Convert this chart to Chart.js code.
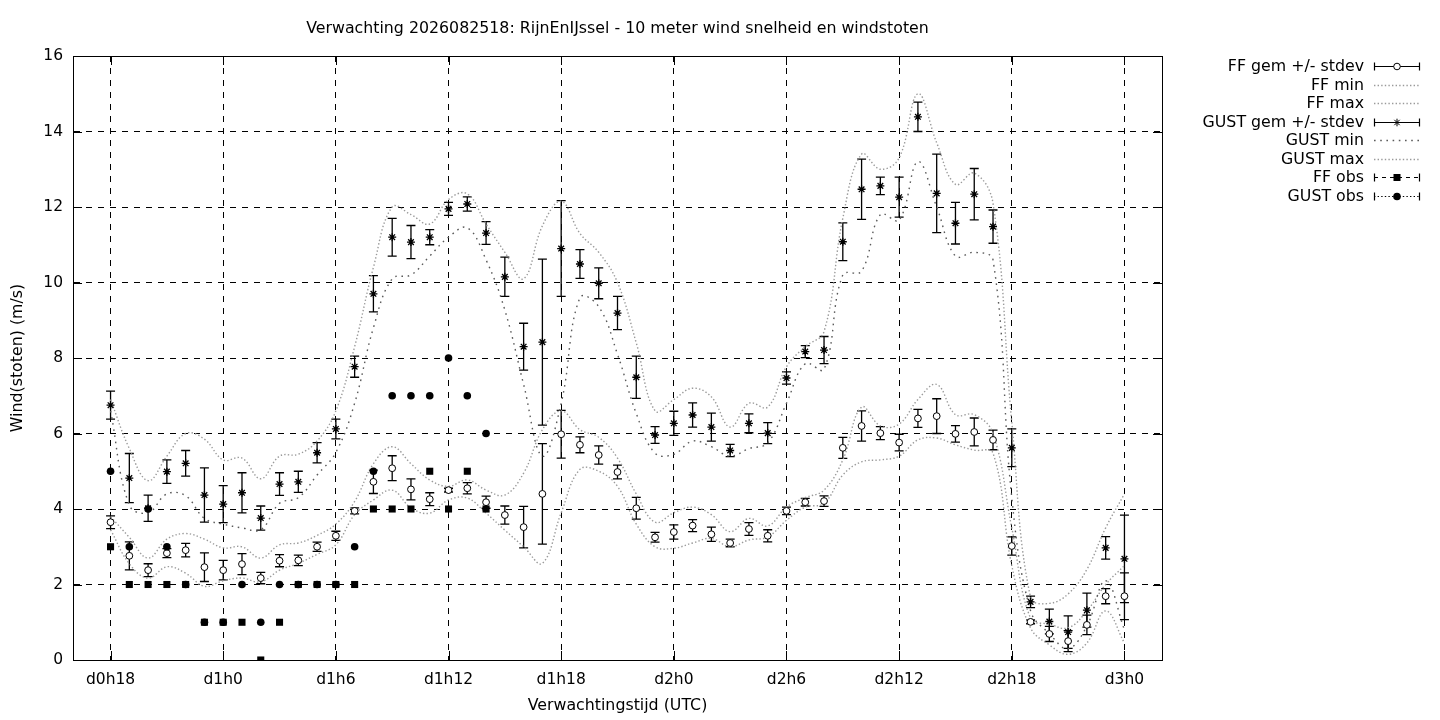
<!DOCTYPE html>
<html>
<head>
<meta charset="utf-8">
<title>Verwachting RijnEnIJssel wind</title>
<script src="https://cdn.jsdelivr.net/npm/chart.js"></script>
<style>
  html, body { margin: 0; padding: 0; background: #fff; }
  canvas { display: block; }
</style>
</head>
<body>
<canvas id="chart" width="1440" height="720"></canvas>
<script>
// ------------------ Data ------------------
const hours = [18, 19, 20, 21, 22, 23, 24, 25, 26, 27, 28, 29, 30, 31, 32, 33, 34, 35, 36, 37,
    38, 39, 40, 41, 42, 43, 44, 45, 46, 47, 48, 49, 50, 51, 52, 53, 54, 55, 56, 57,
    58, 59, 60, 61, 62, 63, 64, 65, 66, 67, 68, 69, 70, 71, 72];

const tickHours = [18, 24, 30, 36, 42, 48, 54, 60, 66, 72];
const tickLabels = ["d0h18", "d1h0", "d1h6", "d1h12", "d1h18", "d2h0", "d2h6", "d2h12", "d2h18", "d3h0"];

const ffMean = [3.65, 2.76, 2.38, 2.83, 2.91, 2.46, 2.38, 2.54, 2.17, 2.63, 2.64, 3.0, 3.29, 3.95, 4.72, 5.08, 4.52, 4.26, 4.5, 4.55,
    4.18, 3.84, 3.52, 4.4, 5.98, 5.7, 5.43, 4.98, 4.02, 3.25, 3.39, 3.56, 3.33, 3.1, 3.47, 3.29, 3.95, 4.18, 4.21, 5.62,
    6.2, 6.01, 5.76, 6.4, 6.46, 5.99, 6.04, 5.83, 3.02, 1.01, 0.69, 0.5, 0.93, 1.69, 1.69];
const ffStdev = [0.17, 0.37, 0.17, 0.12, 0.18, 0.38, 0.26, 0.28, 0.15, 0.16, 0.14, 0.12, 0.12, 0.08, 0.31, 0.33, 0.28, 0.17, 0.05, 0.15,
    0.16, 0.24, 0.55, 1.33, 0.63, 0.21, 0.24, 0.18, 0.29, 0.13, 0.19, 0.16, 0.19, 0.1, 0.17, 0.16, 0.1, 0.1, 0.14, 0.28,
    0.4, 0.17, 0.22, 0.24, 0.46, 0.22, 0.37, 0.26, 0.24, 0.05, 0.2, 0.28, 0.26, 0.2, 0.62];
const ffMin = [3.45, 2.55, 2.17, 2.47, 2.3, 1.95, 2.1, 2.17, 2.07, 2.38, 2.56, 2.8, 3.05, 3.85, 4.24, 4.5, 4.03, 3.89, 4.24, 4.29,
    3.89, 3.44, 3.0, 2.56, 3.9, 5.05, 5.0, 4.6, 3.6, 3.0, 2.96, 3.1, 3.22, 3.0, 3.18, 3.26, 3.7, 4.05, 4.15, 4.9,
    5.25, 5.3, 5.4, 5.83, 5.88, 5.7, 5.56, 5.48, 2.5, 0.85, 0.4, 0.15, 0.45, 1.3, 0.45];
const ffMax = [3.8, 3.25, 2.7, 3.2, 3.35, 3.2, 2.97, 3.0, 2.7, 3.05, 3.1, 3.3, 3.6, 4.2, 5.2, 5.65, 5.2, 4.77, 4.6, 4.77,
    4.5, 4.37, 4.95, 6.1, 6.6, 6.1, 5.9, 5.35, 4.4, 3.65, 3.9, 4.05, 3.85, 3.4, 3.75, 3.55, 4.05, 4.3, 4.5, 5.3,
    6.7, 6.2, 6.25, 6.9, 7.3, 6.5, 6.5, 6.0, 3.5, 1.1, 0.95, 0.85, 1.3, 2.0, 2.5];

const gustMean = [6.75, 4.82, 4.02, 4.99, 5.21, 4.37, 4.13, 4.43, 3.76, 4.66, 4.72, 5.49, 6.12, 7.77, 9.7, 11.2, 11.07, 11.2, 11.95, 12.08,
    11.31, 10.15, 8.3, 8.42, 10.9, 10.49, 9.98, 9.19, 7.49, 5.96, 6.27, 6.49, 6.17, 5.55, 6.27, 6.01, 7.47, 8.17, 8.21, 11.08,
    12.47, 12.56, 12.26, 14.39, 12.36, 11.57, 12.34, 11.48, 5.62, 1.54, 1.02, 0.74, 1.32, 2.97, 2.68];
const gustStdev = [0.37, 0.65, 0.35, 0.31, 0.34, 0.72, 0.49, 0.53, 0.32, 0.3, 0.28, 0.27, 0.26, 0.28, 0.48, 0.5, 0.44, 0.2, 0.17, 0.19,
    0.3, 0.52, 0.62, 2.2, 1.27, 0.38, 0.41, 0.44, 0.56, 0.22, 0.32, 0.32, 0.37, 0.16, 0.25, 0.28, 0.16, 0.16, 0.36, 0.5,
    0.8, 0.23, 0.53, 0.39, 1.04, 0.55, 0.68, 0.44, 0.5, 0.15, 0.33, 0.43, 0.45, 0.3, 1.16];
const gustMin = [6.6, 4.1, 3.9, 4.4, 4.35, 3.75, 3.6, 3.5, 3.45, 4.15, 4.3, 4.9, 5.5, 6.8, 8.8, 10.1, 10.2, 10.7, 11.2, 11.45,
    10.6, 9.27, 7.3, 5.4, 6.8, 9.6, 9.36, 8.1, 6.53, 5.48, 5.45, 5.8, 5.65, 5.4, 5.6, 5.75, 6.8, 7.85, 7.7, 10.2,
    10.3, 11.8, 11.65, 13.2, 12.0, 10.7, 10.8, 10.6, 4.3, 1.3, 0.7, 0.3, 0.9, 2.1, 0.8];
const gustMax = [6.9, 5.6, 4.75, 5.4, 6.0, 5.85, 5.3, 5.35, 4.8, 5.4, 5.45, 5.8, 6.6, 8.3, 10.4, 12.0, 11.8, 11.55, 12.2, 12.35,
    11.55, 10.8, 10.1, 11.5, 12.15, 11.3, 10.8, 10.0, 8.4, 6.6, 6.9, 7.2, 6.97, 6.17, 6.8, 6.7, 7.77, 8.3, 8.7, 11.7,
    13.4, 13.0, 13.3, 15.0, 13.7, 12.6, 12.9, 12.1, 6.3, 1.65, 1.5, 1.75, 2.4, 3.5, 4.4];

// observations only exist for the first hours (d0h18 .. d1h14)
const ffObs = [3, 2, 2, 2, 2, 1, 1, 1, 0, 1, 2, 2, 2, 2, 4, 4, 4, 5, 4, 5, 4];
const gustObs = [5, 3, 4, 3, 2, 1, 1, 2, 1, 2, 2, 2, 2, 3, 5, 7, 7, 7, 8, 7, 6];

const chartTitle = "Verwachting 2026082518: RijnEnIJssel - 10 meter wind snelheid en windstoten";
const xTitle = "Verwachtingstijd (UTC)";
const yTitle = "Wind(stoten) (m/s)";

// ------------------ Helpers ------------------
function toPoints(values) {
    return values.map((v, i) => ({ x: hours[i], y: v }));
}

const FONT = '"DejaVu Sans", "Liberation Sans", sans-serif';
const TEXT_SIZE = 15.8;
const ffLineColor = "#9a9a9a";
const gustMinColor = "#5a5a5a";
const ffDash = [1.4, 2.2];
const gustMinDash = [1.6, 4.6];

// legend rows, gnuplot style (text right, sample left)
const legendRows = [
    { label: "FF gem +/- stdev", kind: "err", marker: "circle" },
    { label: "FF min", kind: "line", color: ffLineColor, dash: ffDash },
    { label: "FF max", kind: "line", color: ffLineColor, dash: ffDash },
    { label: "GUST gem +/- stdev", kind: "err", marker: "star" },
    { label: "GUST min", kind: "line", color: gustMinColor, dash: gustMinDash },
    { label: "GUST max", kind: "line", color: ffLineColor, dash: ffDash },
    { label: "FF obs", kind: "obs", marker: "square", dash: [4, 4] },
    { label: "GUST obs", kind: "obs", marker: "dot", dash: [1.4, 2.2] },
];

function drawMarker(ctx, type, x, y) {
    ctx.save();
    ctx.strokeStyle = "#000";
    ctx.fillStyle = "#000";
    ctx.lineWidth = 1;
    ctx.setLineDash([]);
    if (type === "circle") {
        ctx.fillStyle = "#fff";
        ctx.beginPath();
        ctx.arc(x, y, 3.3, 0, Math.PI * 2);
        ctx.fill();
        ctx.stroke();
    } else if (type === "star") {
        const r = 3.8, d = r * Math.SQRT1_2;
        ctx.beginPath();
        ctx.moveTo(x - r, y); ctx.lineTo(x + r, y);
        ctx.moveTo(x, y - r); ctx.lineTo(x, y + r);
        ctx.moveTo(x - d, y - d); ctx.lineTo(x + d, y + d);
        ctx.moveTo(x - d, y + d); ctx.lineTo(x + d, y - d);
        ctx.stroke();
    } else if (type === "square") {
        ctx.fillRect(x - 3.5, y - 3.5, 7, 7);
    } else if (type === "dot") {
        ctx.beginPath();
        ctx.arc(x, y, 3.8, 0, Math.PI * 2);
        ctx.fill();
    }
    ctx.restore();
}

// ------------------ Plugin: error bars, frame, texts, legend ------------------
const gnuplotLook = {
    id: "gnuplotLook",
    beforeDatasetsDraw(chart) {
        const ctx = chart.ctx;
        const xs = chart.scales.x;
        const ys = chart.scales.y;
        ctx.save();
        ctx.strokeStyle = "#000";
        ctx.lineWidth = 1.3;
        chart.data.datasets.forEach((ds) => {
            if (!ds.stdev) return;
            ds.data.forEach((p, i) => {
                const x = xs.getPixelForValue(p.x);
                const yLo = ys.getPixelForValue(p.y - ds.stdev[i]);
                const yHi = ys.getPixelForValue(p.y + ds.stdev[i]);
                ctx.beginPath();
                ctx.moveTo(x, yLo); ctx.lineTo(x, yHi);
                ctx.moveTo(x - 4.5, yLo); ctx.lineTo(x + 4.5, yLo);
                ctx.moveTo(x - 4.5, yHi); ctx.lineTo(x + 4.5, yHi);
                ctx.stroke();
            });
        });
        ctx.restore();
    },
    afterDraw(chart) {
        const ctx = chart.ctx;
        const area = chart.chartArea;
        const xs = chart.scales.x;
        const ys = chart.scales.y;

        ctx.save();
        // frame + mirrored tick marks
        ctx.strokeStyle = "#000";
        ctx.lineWidth = 1;
        ctx.setLineDash([]);
        ctx.strokeRect(Math.round(area.left) + 0.5, Math.round(area.top) + 0.5,
            Math.round(area.right - area.left), Math.round(area.bottom - area.top));
        ctx.beginPath();
        ys.ticks.forEach((t) => {
            const y = Math.round(ys.getPixelForValue(t.value)) + 0.5;
            ctx.moveTo(area.left, y); ctx.lineTo(area.left + 9, y);
            ctx.moveTo(area.right - 9, y); ctx.lineTo(area.right, y);
        });
        xs.ticks.forEach((t) => {
            const x = Math.round(xs.getPixelForValue(t.value)) + 0.5;
            ctx.moveTo(x, area.bottom); ctx.lineTo(x, area.bottom - 9);
            ctx.moveTo(x, area.top); ctx.lineTo(x, area.top + 9);
        });
        ctx.stroke();

        // texts
        ctx.fillStyle = "#000";
        ctx.font = TEXT_SIZE + "px " + FONT;
        ctx.textAlign = "center";
        ctx.textBaseline = "middle";
        const midX = (area.left + area.right) / 2;
        ctx.fillText(chartTitle, midX, 29);
        ctx.fillText(xTitle, midX, 706);
        ctx.save();
        ctx.translate(18, (area.top + area.bottom) / 2);
        ctx.rotate(-Math.PI / 2);
        ctx.fillText(yTitle, 0, 0);
        ctx.restore();

        // legend
        const textRight = 1364, x1 = 1374, x2 = 1420, xm = (x1 + x2) / 2;
        legendRows.forEach((row, i) => {
            const y = Math.round(66 + i * 18.57) + 0.5;
            ctx.textAlign = "right";
            ctx.fillStyle = "#000";
            ctx.fillText(row.label, textRight, y);
            ctx.save();
            if (row.kind === "line") {
                ctx.lineWidth = 1.4;
                ctx.strokeStyle = row.color;
                ctx.setLineDash(row.dash);
                ctx.beginPath();
                ctx.moveTo(x1, y); ctx.lineTo(x2, y);
                ctx.stroke();
            } else {
                ctx.lineWidth = 1.2;
                ctx.strokeStyle = "#000";
                ctx.setLineDash(row.kind === "obs" ? row.dash : []);
                ctx.beginPath();
                ctx.moveTo(x1, y); ctx.lineTo(x2, y);
                ctx.stroke();
                ctx.setLineDash([]);
                ctx.beginPath();
                ctx.moveTo(x1 + 0.5, y - 4); ctx.lineTo(x1 + 0.5, y + 4);
                ctx.moveTo(x2 - 0.5, y - 4); ctx.lineTo(x2 - 0.5, y + 4);
                ctx.stroke();
                drawMarker(ctx, row.marker, xm, y);
            }
            ctx.restore();
        });
        ctx.restore();
    },
};

// ------------------ Chart ------------------
const ctx = document.getElementById("chart").getContext("2d");

const lineStyle = (color, dash) => ({
    type: "line",
    borderColor: color,
    borderWidth: 1.4,
    borderDash: dash,
    pointRadius: 0,
    tension: 0.4,
    fill: false,
});

const myChart = new Chart(ctx, {
    type: "line",
    data: {
        datasets: [
            {
                label: "GUST obs",
                data: gustObs.map((v, i) => ({ x: hours[i], y: v })),
                showLine: false,
                pointStyle: "circle",
                pointRadius: 3.8,
                pointBackgroundColor: "#000",
                pointBorderColor: "#000",
                pointBorderWidth: 0,
            },
            {
                label: "FF obs",
                data: ffObs.map((v, i) => ({ x: hours[i], y: v })),
                showLine: false,
                pointStyle: "rect",
                pointRadius: 5,
                pointBackgroundColor: "#000",
                pointBorderColor: "#000",
                pointBorderWidth: 0,
            },
            {
                label: "GUST gem +/- stdev",
                data: toPoints(gustMean),
                stdev: gustStdev,
                showLine: false,
                pointStyle: "star",
                pointRadius: 4,
                pointBorderColor: "#000",
                pointBorderWidth: 1.3,
            },
            {
                label: "FF gem +/- stdev",
                data: toPoints(ffMean),
                stdev: ffStdev,
                showLine: false,
                pointStyle: "circle",
                pointRadius: 3.4,
                pointBackgroundColor: "#fff",
                pointBorderColor: "#000",
                pointBorderWidth: 1,
            },
            Object.assign({ label: "GUST max", data: toPoints(gustMax) }, lineStyle(ffLineColor, ffDash)),
            Object.assign({ label: "GUST min", data: toPoints(gustMin) }, lineStyle(gustMinColor, gustMinDash)),
            Object.assign({ label: "FF max", data: toPoints(ffMax) }, lineStyle(ffLineColor, ffDash)),
            Object.assign({ label: "FF min", data: toPoints(ffMin) }, lineStyle(ffLineColor, ffDash)),
        ],
    },
    options: {
        responsive: false,
        animation: false,
        devicePixelRatio: 1,
        events: [],
        layout: { padding: { left: 0, right: 278, top: 56, bottom: 0 } },
        plugins: {
            legend: { display: false },
            title: { display: false },
            tooltip: { enabled: false },
        },
        scales: {
            x: {
                type: "linear",
                min: 16,
                max: 74,
                afterBuildTicks: (scale) => {
                    scale.ticks = tickHours.map((h) => ({ value: h }));
                },
                afterFit: (scale) => {
                    scale.height = 60;
                },
                ticks: {
                    autoSkip: false,
                    maxRotation: 0,
                    padding: 11,
                    color: "#000",
                    font: { family: FONT, size: 15.5 },
                    callback: (value, index) => tickLabels[index],
                },
                grid: { color: "#000", lineWidth: 1, drawTicks: false },
                border: { display: true, color: "#000", width: 1, dash: [6, 6] },
            },
            y: {
                type: "linear",
                min: 0,
                max: 16,
                afterFit: (scale) => {
                    scale.width = 73;
                },
                ticks: {
                    stepSize: 2,
                    padding: 10,
                    color: "#000",
                    font: { family: FONT, size: 15.5 },
                },
                grid: { color: "#000", lineWidth: 1, drawTicks: false },
                border: { display: true, color: "#000", width: 1, dash: [6, 6] },
            },
        },
    },
    plugins: [gnuplotLook],
});
</script>
</body>
</html>
